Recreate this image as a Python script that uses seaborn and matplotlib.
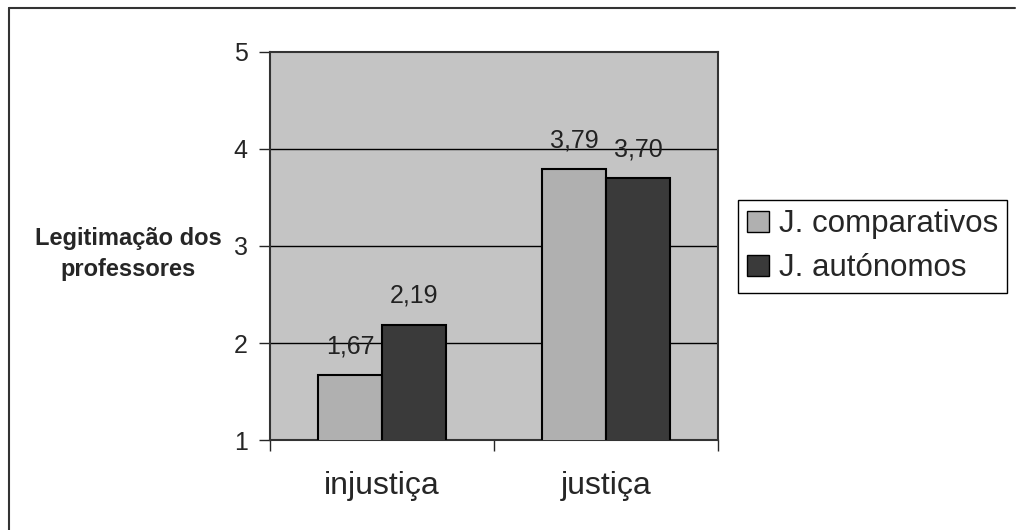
import matplotlib
matplotlib.use("Agg")
import matplotlib.pyplot as plt
import matplotlib.patches as mpatches
from matplotlib.lines import Line2D
import seaborn as sns
import pandas as pd

# dados
categorias = ["injustiça", "justiça"]
series = ["J. comparativos", "J. autónomos"]
comparativos = [1.67, 3.79]
autonomos = [2.19, 3.70]
rotulos = ["1,67", "3,79", "2,19", "3,70"]
cores = ["#b0b0b0", "#3a3a3a"]

df = pd.DataFrame({
    "cat": categorias * 2,
    "serie": [series[0]] * 2 + [series[1]] * 2,
    "valor": comparativos + autonomos,
})

sns.set_style("white")
plt.rcParams["font.family"] = ["Liberation Sans", "DejaVu Sans"]

fig = plt.figure(figsize=(10.17, 5.30), dpi=100)
ax = fig.add_axes([0.2655, 0.1698, 0.4405, 0.7321])
ax.set_facecolor("#c4c4c4")

sns.barplot(data=df, x="cat", y="valor", hue="serie", palette=cores,
            width=0.57, edgecolor="black", linewidth=1.5, ax=ax,
            legend=False, zorder=3)

ax.set_ylim(1, 5)
ax.set_xlim(-0.5, 1.5)
ax.set_yticks([1, 2, 3, 4, 5])
ax.set_yticklabels(["1", "2", "3", "4", "5"], fontsize=18)
ax.tick_params(axis="y", length=8, width=1, direction="out", left=True, pad=8)
ax.set_xticks([0, 1])
ax.set_xticklabels(categorias, fontsize=23)
ax.tick_params(axis="x", which="major", length=0, pad=22)
ax.set_xticks([-0.5, 0.5, 1.5], minor=True)
ax.tick_params(axis="x", which="minor", length=8, width=1, direction="out", bottom=True)
for v in [2, 3, 4]:
    ax.axhline(v, color="black", linewidth=1, zorder=2)
for s in ax.spines.values():
    s.set_color("#333333")
    s.set_linewidth(1.5)

ax.set_xlabel("")
ax.set_ylabel("")

# rótulos de valores
for cont, labs in zip(ax.containers, [rotulos[:2], rotulos[2:]]):
    ax.bar_label(cont, labels=labs, padding=12, fontsize=18, color="#222222")

fig.text(0.126, 0.52, "Legitimação dos\nprofessores", ha="center", va="center",
         fontsize=17, fontweight="bold", linespacing=1.45)

handles = [mpatches.Patch(facecolor=c, edgecolor="black", label=l) for c, l in zip(cores, series)]
leg = fig.legend(handles=handles, loc="upper left", bbox_to_anchor=(0.7257, 0.6226),
                 borderaxespad=0, fontsize=22.5, handlelength=0.7, handleheight=0.7,
                 handletextpad=0.3, labelspacing=0.45, borderpad=0.3,
                 fancybox=False, framealpha=1, edgecolor="black")
leg.get_frame().set_linewidth(1)

# moldura do gráfico
fig.add_artist(Line2D([0.0089, 0.998], [0.985, 0.985], color="#333333", linewidth=1.5))
fig.add_artist(Line2D([0.0089, 0.0089], [0.0, 0.985], color="#333333", linewidth=1.5))

fig.savefig("out.png", dpi=100)
